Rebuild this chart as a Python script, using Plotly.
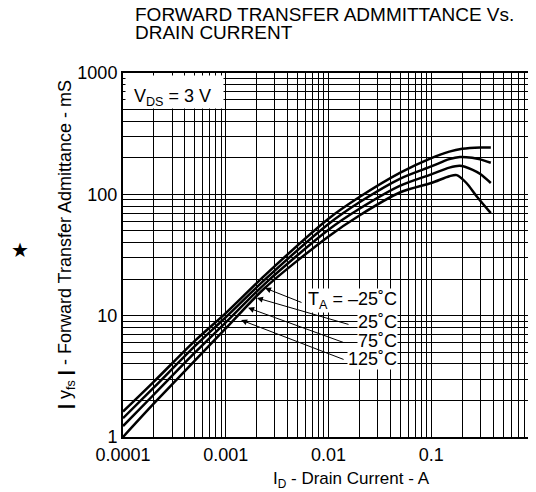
import math
import plotly.graph_objects as go

# Drain current (A) and forward transfer admittance (mS) per ambient temperature
id_m25 = [1e-4, 2e-4, 5e-4, 1e-3, 2.4e-3, 1e-2, 2e-2, 5e-2, 0.1, 0.15, 0.2, 0.3, 0.38]
yfs_m25 = [1.62, 2.86, 6.2, 10.5, 21.5, 63, 95, 151, 199, 225, 237, 243, 243]

id_25 = [1e-4, 2e-4, 5e-4, 1e-3, 2.4e-3, 1e-2, 2e-2, 5e-2, 0.1, 0.15, 0.19, 0.25, 0.3, 0.38]
yfs_25 = [1.43, 2.56, 5.6, 9.7, 19.8, 57, 86, 135, 170, 195, 203, 200, 194, 182]

id_75 = [1e-4, 2e-4, 5e-4, 1e-3, 2.4e-3, 1e-2, 2e-2, 5e-2, 0.1, 0.15, 0.19, 0.25, 0.3, 0.38]
yfs_75 = [1.23, 2.24, 4.95, 8.8, 18.3, 51, 76, 118, 146, 166, 172, 160, 147, 124]

id_125 = [1e-4, 2e-4, 5e-4, 1e-3, 2.4e-3, 1e-2, 2e-2, 5e-2, 0.1, 0.15, 0.177, 0.22, 0.28, 0.38]
yfs_125 = [1.0, 1.89, 4.26, 7.85, 16.9, 45, 67, 104, 124, 141, 144, 124, 95, 70]

x_tickvals = [1e-4, 1e-3, 1e-2, 1e-1, 1]
x_ticktext = ["0.0001", "0.001", "0.01", "0.1", "1"]
y_tickvals = [1, 10, 100, 1000]
y_ticktext = ["1", "10", "100", "1000"]

temp_labels = ["T<sub>A</sub> = \u201325\u02daC", "25\u02daC", "75\u02daC", "125\u02daC"]
# arrow heads (ID, yfs) and tails (ID, yfs)
arrow_head_x = [0.00241, 0.00201, 0.00165, 0.00141]
arrow_head_y = [16.9, 14.0, 11.6, 9.2]
arrow_tail_x = [0.00565, 0.0162, 0.0145, 0.0145]
arrow_tail_y = [12.7, 8.4, 5.95, 4.31]

FONT = "Liberation Sans, Arial, sans-serif"

# plot area in page pixels (page has an 8px body margin)
PL, PR, PT, PB = 123, 534, 73, 437
PW, PH = PR - PL, PB - PT
OFF = 8


def px(xp):
    return (xp - PL) / PW


def py(yp):
    return (PB - yp) / PH


fig = go.Figure()
for xs, ys in [(id_m25, yfs_m25), (id_25, yfs_25), (id_75, yfs_75), (id_125, yfs_125)]:
    fig.add_trace(go.Scatter(x=xs, y=ys, mode="lines",
                             line=dict(color="black", width=2.5, shape="spline", smoothing=0.8),
                             showlegend=False, hoverinfo="skip"))

minor_x = [m * 10 ** e for e in range(-4, 0) for m in range(2, 10)]
minor_y = [m * 10 ** e for e in range(0, 3) for m in range(2, 10)]

axis_common = dict(showgrid=True, gridcolor="black", gridwidth=1, zeroline=False,
                   showline=True, linecolor="black", linewidth=2, mirror=True, ticks="",
                   automargin=False, tickfont=dict(size=18, color="black", family=FONT))
fig.update_xaxes(type="log", range=[-4, 0], tickvals=x_tickvals, ticktext=x_ticktext,
                 minor=dict(tickmode="array", tickvals=minor_x, showgrid=True,
                            gridcolor="black", gridwidth=1, ticks=""), **axis_common)
fig.update_yaxes(type="log", range=[0, 3], tickvals=y_tickvals, ticktext=y_ticktext,
                 minor=dict(tickmode="array", tickvals=minor_y, showgrid=True,
                            gridcolor="black", gridwidth=1, ticks=""), **axis_common)

ann = []
# white box behind the VDS label (inside the frame)
ann.append(dict(text=" ", xref="paper", yref="paper", x=px(124.5), y=py(74.5),
                xanchor="left", yanchor="top", showarrow=False, width=97, height=32,
                bgcolor="white", borderpad=0))
ann.append(dict(text="V<sub>DS</sub> = 3 V", xref="paper", yref="paper", x=px(132), y=py(97),
                xanchor="left", yanchor="middle", showarrow=False,
                font=dict(size=18, color="black", family=FONT)))
ann.append(dict(text="FORWARD TRANSFER ADMMITTANCE Vs.", xref="paper", yref="paper",
                x=px(133), y=py(14.5), xanchor="left", yanchor="middle", showarrow=False,
                font=dict(size=19, color="black", family=FONT)))
ann.append(dict(text="DRAIN CURRENT", xref="paper", yref="paper",
                x=px(133), y=py(33), xanchor="left", yanchor="middle", showarrow=False,
                font=dict(size=19, color="black", family=FONT)))
ann.append(dict(text="I<sub>D</sub> - Drain Current - A", xref="paper", yref="paper",
                x=px(351), y=py(480), xanchor="center", yanchor="middle", showarrow=False,
                font=dict(size=17, color="black", family=FONT)))
ann.append(dict(text="<b>|</b> y<sub>fs</sub> <b>|</b> - Forward Transfer Admittance - mS",
                xref="paper", yref="paper", x=px(66), y=py(245),
                textangle=-90, xanchor="center", yanchor="middle", showarrow=False,
                font=dict(size=18, color="black", family=FONT)))
ann.append(dict(text="\u2605", xref="paper", yref="paper", x=px(20), y=py(250),
                xanchor="center", yanchor="middle", showarrow=False,
                font=dict(size=20, color="black", family="DejaVu Sans")))

label_y = [300, 322, 341, 359]
for t, ly in zip(temp_labels, label_y):
    ann.append(dict(text=t, xref="paper", yref="paper", x=px(398), y=py(ly),
                    xanchor="right", yanchor="middle", showarrow=False, bgcolor="white",
                    borderpad=0, font=dict(size=18, color="black", family=FONT)))

for hx, hy, tx, ty in zip(arrow_head_x, arrow_head_y, arrow_tail_x, arrow_tail_y):
    ann.append(dict(text="", x=math.log10(hx), y=math.log10(hy), xref="x", yref="y",
                    ax=math.log10(tx), ay=math.log10(ty), axref="x", ayref="y",
                    showarrow=True, arrowhead=2, arrowsize=1.2, arrowwidth=1,
                    arrowcolor="black", standoff=0, startstandoff=0))

W, H = 536, 492
fig.update_layout(width=W, height=H,
                  margin=dict(l=PL - OFF, r=W - (PR - OFF), t=PT - OFF, b=H - (PB - OFF)),
                  plot_bgcolor="white", paper_bgcolor="white",
                  annotations=ann, showlegend=False,
                  font=dict(family=FONT, color="black"))

fig.write_html("out.html")
